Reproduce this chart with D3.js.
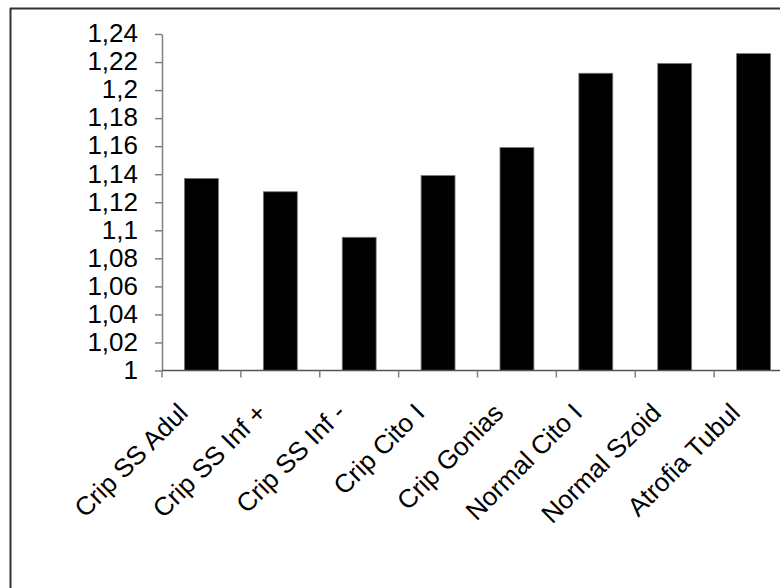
<!DOCTYPE html>
<html>
<head>
<meta charset="utf-8">
<script src="https://cdn.jsdelivr.net/npm/d3@7"></script>
<style>
html,body{margin:0;padding:0;background:#fff;}
svg{display:block;font-family:"Liberation Sans",Arial,sans-serif;}
</style>
</head>
<body>
<svg id="chart" width="780" height="588"></svg>
<script>
const categories = ["Crip SS Adul","Crip SS Inf +","Crip SS Inf -","Crip Cito I","Crip Gonias","Normal Cito I","Normal Szoid","Atrofia Tubul"];
const values = [1.137, 1.1275, 1.095, 1.139, 1.159, 1.212, 1.219, 1.226];
const yTicks = [1, 1.02, 1.04, 1.06, 1.08, 1.1, 1.12, 1.14, 1.16, 1.18, 1.2, 1.22, 1.24];
const yTickLabels = ["1","1,02","1,04","1,06","1,08","1,1","1,12","1,14","1,16","1,18","1,2","1,22","1,24"];

(function(){
const svg = d3.select("#chart");
const pLeft = 162, pRight = 793, pTop = 34, pBottom = 370.5;

const x = d3.scaleBand().domain(categories).range([pLeft, pRight]).paddingInner(0.57).paddingOuter(0.285);
const xb = d3.scaleBand().domain(categories).range([pLeft, pRight]);
const y = d3.scaleLinear().domain([1, 1.24]).range([pBottom, pTop]);

// frame
svg.append("line").attr("x1",10.5).attr("x2",10.5).attr("y1",8).attr("y2",588).attr("stroke","#333").attr("stroke-width",2);
svg.append("line").attr("x1",10).attr("x2",780).attr("y1",8.5).attr("y2",8.5).attr("stroke","#333").attr("stroke-width",2);

// bars
svg.selectAll("rect.bar").data(values).enter().append("rect")
  .attr("class","bar")
  .attr("x",(d,i)=>x(categories[i]))
  .attr("width",x.bandwidth())
  .attr("y",d=>y(d))
  .attr("height",d=>y(1)-y(d))
  .attr("fill","#000")
  .attr("stroke","#777").attr("stroke-width",0.8);

// y axis
const yAxis = d3.axisLeft(y).tickValues(yTicks).tickSize(7).tickSizeOuter(0)
  .tickFormat((d,i)=>yTickLabels[i]);
const gy = svg.append("g").attr("transform",`translate(${pLeft},0)`).call(yAxis);
gy.select(".domain").attr("stroke","#808080").attr("stroke-width",1.5);
gy.selectAll(".tick line").attr("stroke","#808080").attr("stroke-width",1.5);
gy.selectAll(".tick text").attr("font-size",26).attr("fill","#000")
  .attr("font-family","'Liberation Sans',Arial,sans-serif").attr("x",-24).attr("dy","0.3em");

// x axis baseline and ticks
svg.append("line").attr("x1",pLeft).attr("x2",780).attr("y1",pBottom).attr("y2",pBottom).attr("stroke","#555").attr("stroke-width",1.5);
svg.selectAll("line.xt").data(categories).enter().append("line")
  .attr("class","xt")
  .attr("x1",d=>xb(d)).attr("x2",d=>xb(d))
  .attr("y1",pBottom).attr("y2",pBottom+7)
  .attr("stroke","#808080").attr("stroke-width",1.5);

// x labels
svg.selectAll("text.xl").data(categories).enter().append("text")
  .attr("class","xl")
  .attr("text-anchor","end")
  .attr("font-size",26)
  .attr("fill","#000")
  .attr("transform",d=>`translate(${xb(d)+xb.bandwidth()/2-12},${pBottom+44}) rotate(-45)`)
  .text(d=>d);
})();
</script>
</body>
</html>
